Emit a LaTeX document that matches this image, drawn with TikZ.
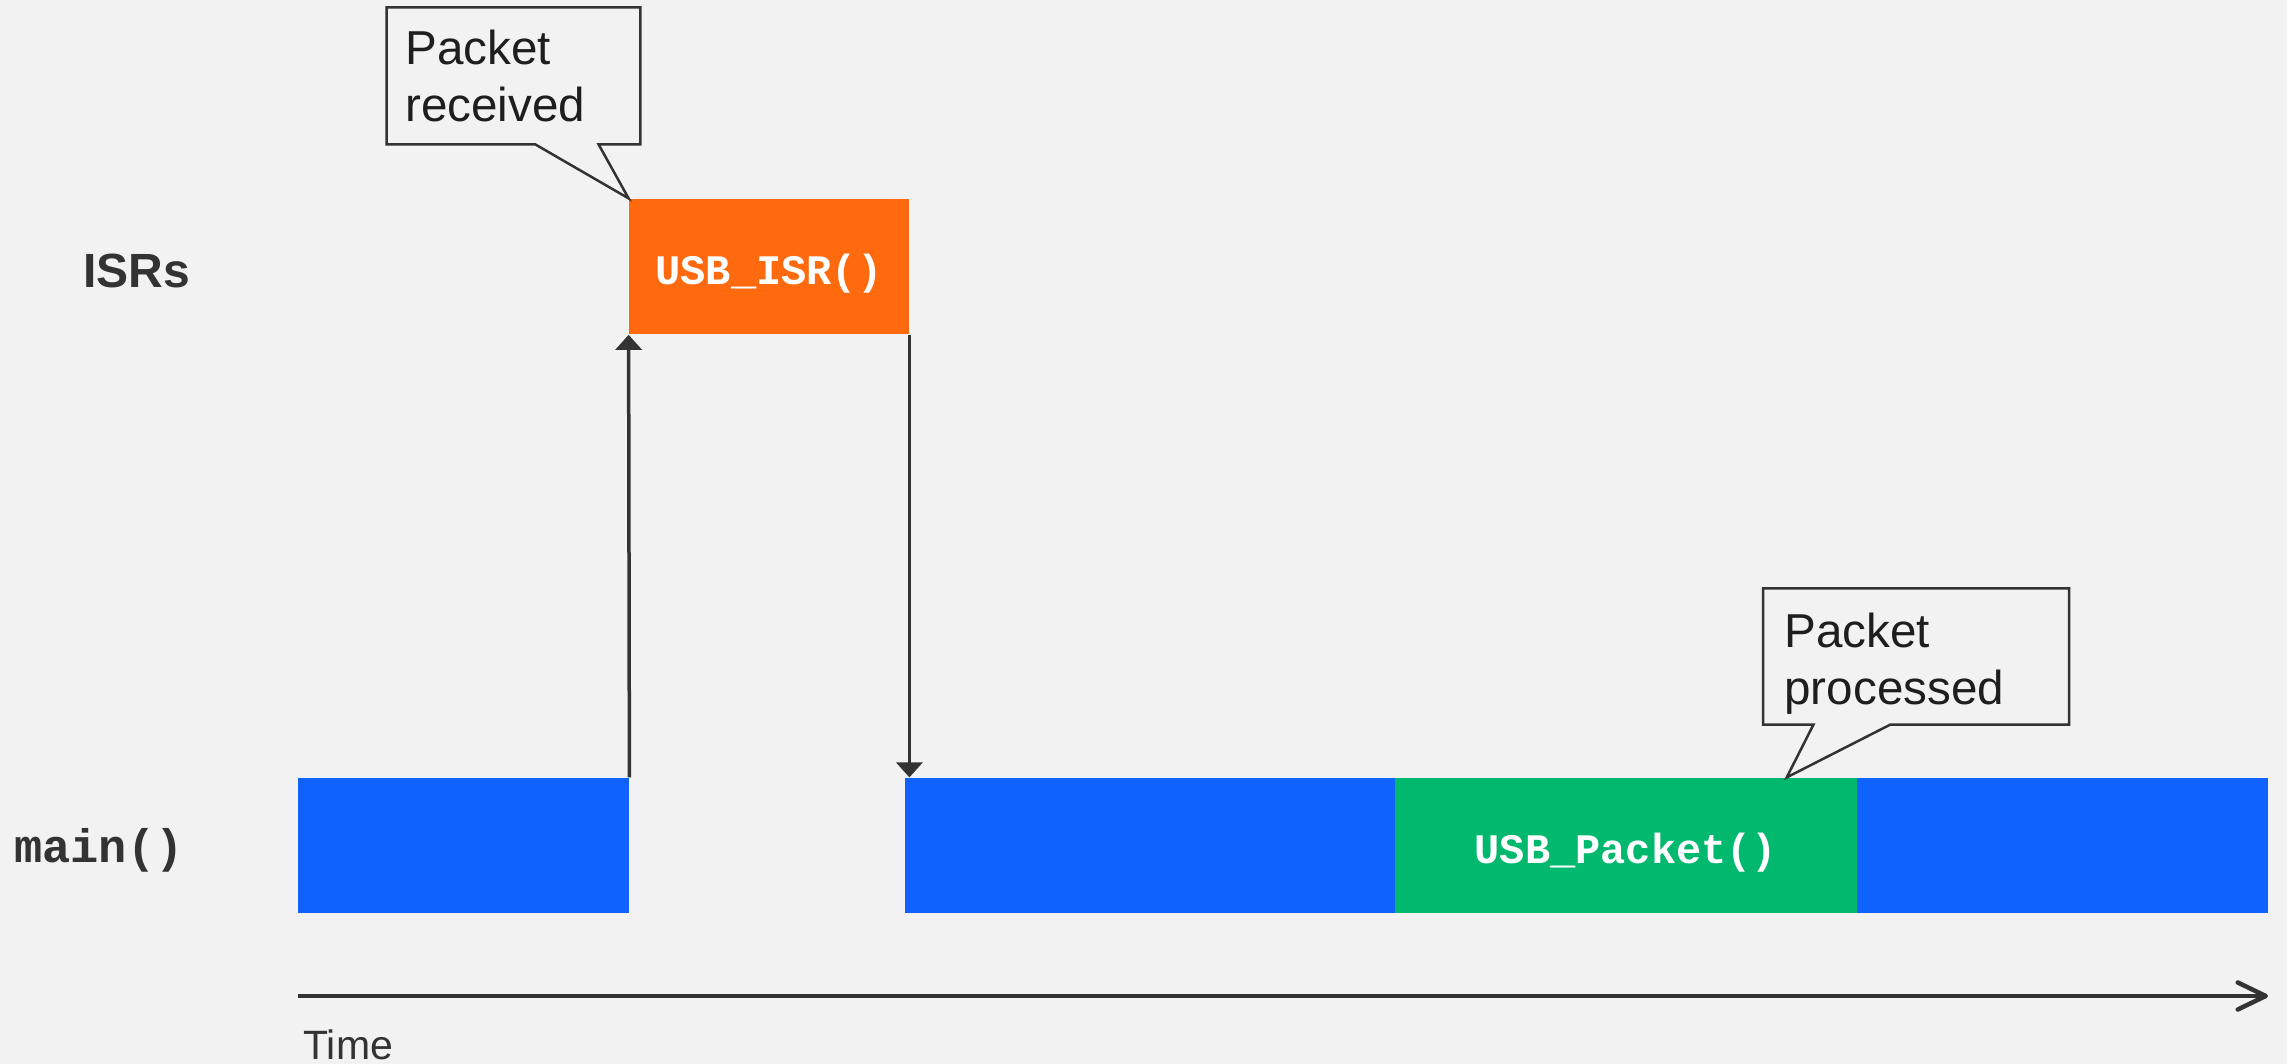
\documentclass[tikz,border=0pt]{standalone}
\usepackage{fontspec}
\setmainfont{Liberation Sans}
\newfontfamily\codefont{Liberation Mono}
\usetikzlibrary{arrows.meta}
\definecolor{bg}{HTML}{F2F2F2}
\definecolor{ink}{HTML}{333333}
\definecolor{notetext}{HTML}{1E1E1E}
\definecolor{isrorange}{HTML}{FF6A0E}
\definecolor{mainblue}{HTML}{0F62FE}
\definecolor{pktgreen}{HTML}{00B86E}

\begin{document}
\begin{tikzpicture}[x=0.5pt,y=-0.5pt,
  bar/.style={draw=none, inner sep=0pt, minimum height=67.8pt, anchor=north west},
  code/.style={font=\codefont\bfseries\fontsize{21}{24}\selectfont, text=white,
    text height=18pt, text depth=0pt},
  lane/.style={text=ink, inner sep=0pt, anchor=base west},
  note/.style={font=\fontsize{23.8}{28.5}\selectfont, text=notetext, align=left, inner sep=0pt, anchor=base west},
  callout/.style={draw=ink, fill=bg, line width=1.25pt, line join=miter},
  switch/.style={draw=ink, line width=1.75pt, -{Triangle[width=13pt,length=7.5pt]}},
  axis/.style={draw=ink, line width=2.25pt, -{Straight Barb[round,length=14pt,width=13.5pt]}}]

% canvas
\fill[bg] (0,0) rectangle (2287,1064);
\useasboundingbox (0,0) rectangle (2287,1064);

% lane labels
\node[lane, font=\bfseries\fontsize{24}{28}\selectfont] (isrs) at (83,288) {ISRs};
\node[lane, font=\codefont\bfseries\fontsize{23.5}{28}\selectfont] (mainlbl) at (14,862) {main()};

% execution blocks
\node[bar, fill=isrorange, minimum width=140pt, code] (isr) at (628.6,198.4) {USB\_ISR()};
\node[bar, fill=mainblue, minimum width=165.55pt] (m1) at (297.5,777.4) {};
\node[bar, fill=mainblue, minimum width=245pt] (m2) at (904.3,777.4) {};
\node[bar, fill=pktgreen, minimum width=231.2pt, code] (pkt) at (1394.3,777.4) {USB\_Packet()};
\node[bar, fill=mainblue, minimum width=205.65pt] (m3) at (1856.7,777.4) {};

% context switches
\draw[switch] (m1.north east) -- (isr.south west);
\draw[switch] (isr.south east) -- (isr.south east |- m2.north);

% callouts
\coordinate (tip1) at (isr.north west);
\coordinate (tip2) at (1786.7,777.4);
\draw[callout] (386.5,7.3) -- (640.3,7.3) -- (640.3,144.4) -- (598.6,144.4)
  -- (tip1) -- (535.3,144.4) -- (386.5,144.4) -- cycle;
\node[note] (rcv) at (405,121.5) {Packet\\received};
\draw[callout] (1763,588.3) -- (2069,588.3) -- (2069,724.5) -- (1890.5,724.5)
  -- (tip2) -- (1813.5,724.5) -- (1763,724.5) -- cycle;
\node[note] (prc) at (1784,704.5) {Packet\\processed};

% time axis
\coordinate (t0) at (297.5,996);
\coordinate (t1) at (2268,996);
\draw[axis] (t0) -- (t1);
\node[lane, font=\fontsize{20.5}{24}\selectfont] (time) at (303,1059) {Time};
\end{tikzpicture}
\end{document}
